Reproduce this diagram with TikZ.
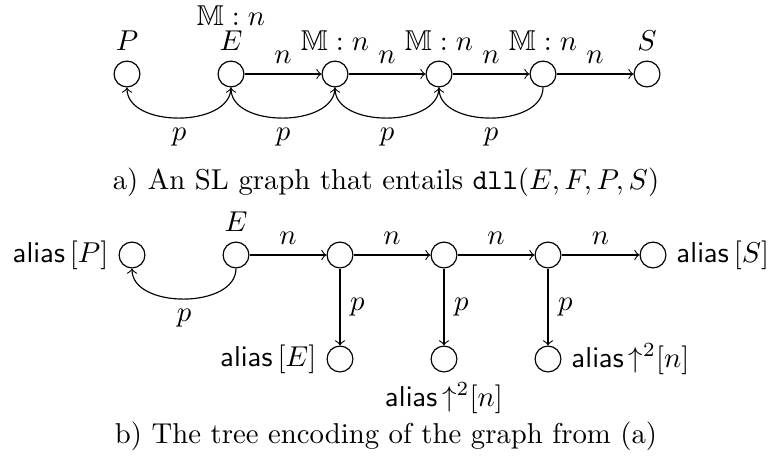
\documentclass[tikz,border=0pt]{standalone}
\usepackage{amssymb}
\begin{document}
\begin{tikzpicture}[x=0.348pt,y=-0.348pt,
  st/.style={circle,draw,minimum size=9pt,inner sep=0pt}]
\useasboundingbox (0,0) rectangle (771,474);
% ---------- (a) ----------
\node[st,label=above:$P$] (t1) at (127,74) {};
\node[st,label={[name=Elab]above:$E$}] (t2) at (231,74) {};
\node (mE) at (231,16) {$\mathbb{M}:n$};
\node[st,label=above:$\mathbb{M}:n$] (t3) at (335,74) {};
\node[st,label=above:$\mathbb{M}:n$] (t4) at (439,74) {};
\node[st,label=above:$\mathbb{M}:n$] (t5) at (543,74) {};
\node[st,label=above:$S$] (t6) at (647,74) {};
\draw[->] (t2) -- node[above]{$n$} (t3);
\draw[->] (t3) -- node[above]{$n$} (t4);
\draw[->] (t4) -- node[above]{$n$} (t5);
\draw[->] (t5) -- node[above]{$n$} (t6);
\draw[->] (t2.south) to[out=-90,in=-90] node[below]{$p$} (t1.south);
\draw[->] (t3.south) to[out=-90,in=-90] node[below]{$p$} (t2.south);
\draw[->] (t4.south) to[out=-90,in=-90] node[below]{$p$} (t3.south);
\draw[->] (t5.south) to[out=-90,in=-90] node[below]{$p$} (t4.south);
\node (capa) at (386,182) {a) An SL graph that entails \texttt{dll}$(E,F,P,S)$};
% ---------- (b) ----------
\node[st,label=left:$\mathsf{alias}\,{[P]}$] (b1) at (132,255) {};
\node[st,label=above:$E$] (b2) at (236,255) {};
\node[st] (b3) at (340,255) {};
\node[st] (b4) at (444,255) {};
\node[st] (b5) at (548,255) {};
\node[st,label=right:$\mathsf{alias}\,{[S]}$] (b6) at (653,255) {};
\node[st,label=left:$\mathsf{alias}\,{[E]}$] (c1) at (340,359) {};
\node[st,label=below:$\mathsf{alias}\,{\uparrow^2}{[n]}$] (c2) at (444,359) {};
\node[st,label=right:$\mathsf{alias}\,{\uparrow^2}{[n]}$] (c3) at (548,359) {};
\draw[->] (b2) -- node[above]{$n$} (b3);
\draw[->] (b3) -- node[above]{$n$} (b4);
\draw[->] (b4) -- node[above]{$n$} (b5);
\draw[->] (b5) -- node[above]{$n$} (b6);
\draw[->] (b2.south) to[out=-90,in=-90] node[below]{$p$} (b1.south);
\draw[->] (b3) -- node[right]{$p$} (c1);
\draw[->] (b4) -- node[right]{$p$} (c2);
\draw[->] (b5) -- node[right]{$p$} (c3);
\node (capb) at (386,436) {b) The tree encoding of the graph from (a)};
\end{tikzpicture}
\end{document}
